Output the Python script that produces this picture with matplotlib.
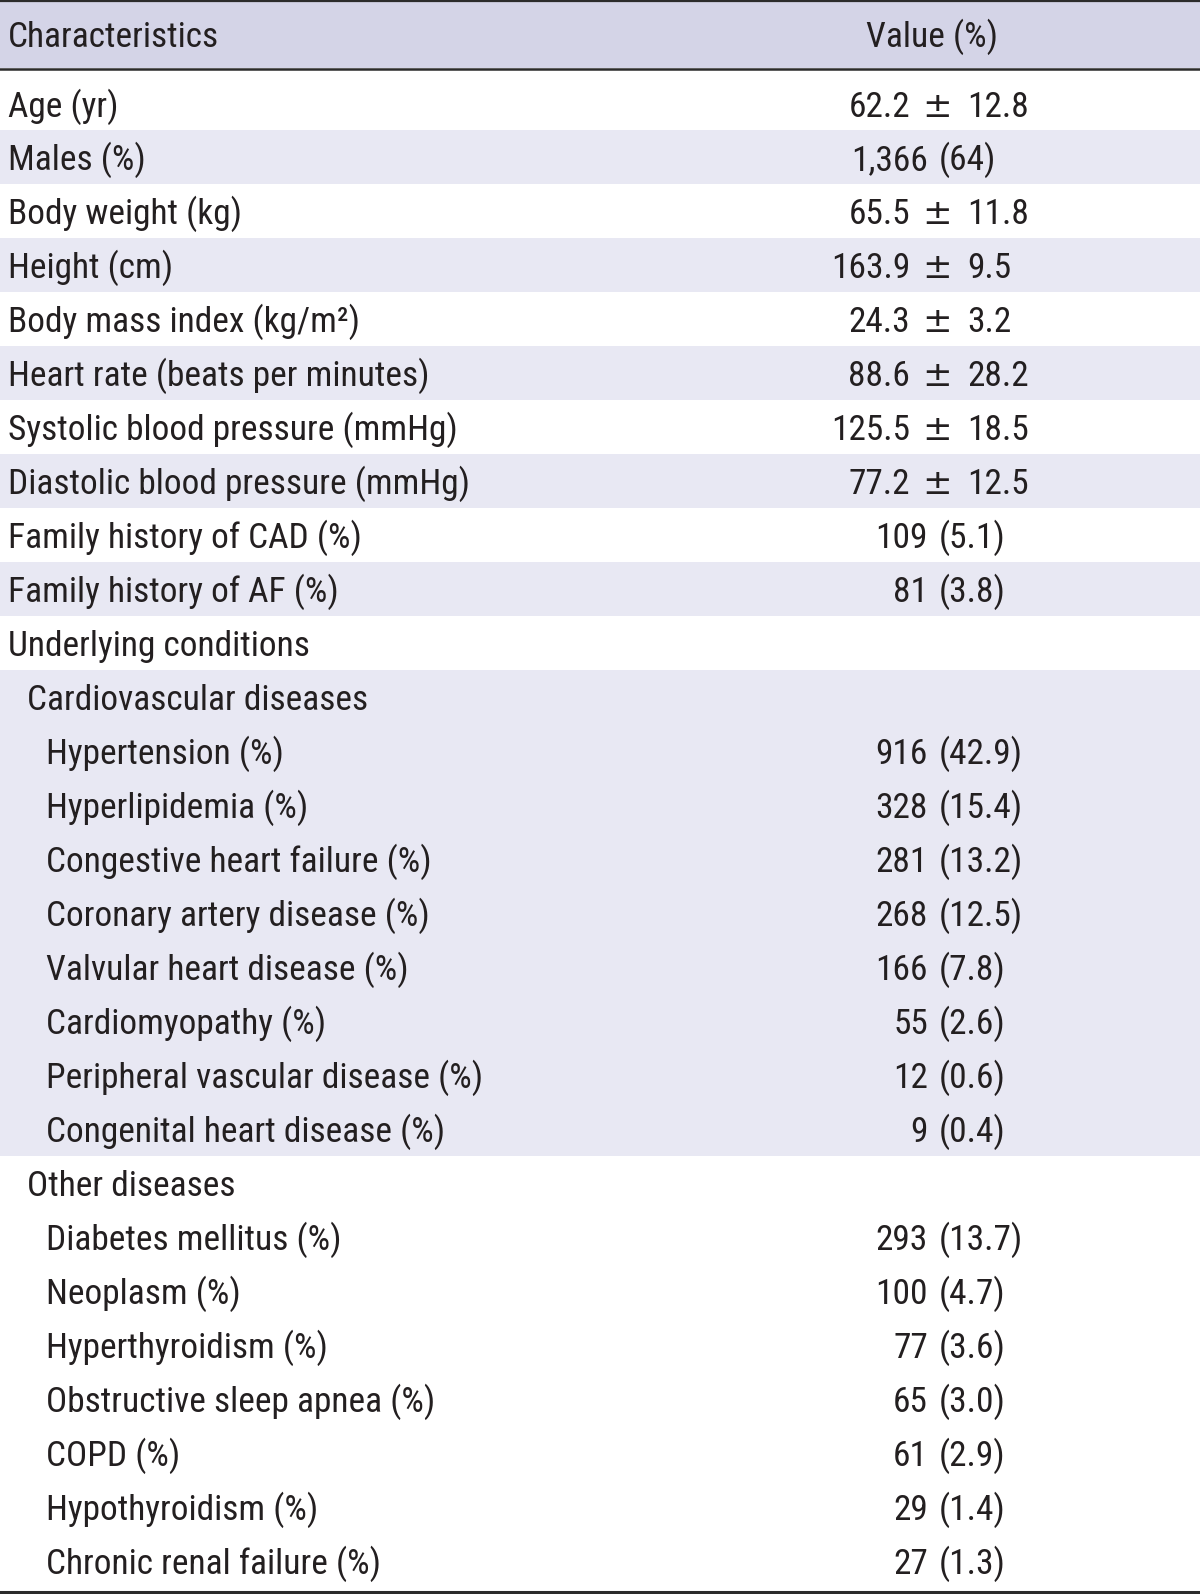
import matplotlib
matplotlib.use("Agg")
import matplotlib.pyplot as plt
from matplotlib import font_manager

names = {f.name for f in font_manager.fontManager.ttflist}
CANDIDATES = ["Roboto Condensed", "Archivo Narrow", "PT Sans Narrow",
              "Liberation Sans Narrow", "Liberation Sans"]
FONT = next((c for c in CANDIDATES if c in names), "DejaVu Sans")
plt.rcParams["font.family"] = [FONT, "DejaVu Sans"]

# ---------------- data ----------------
header = ["Characteristics", "Value (%)"]
labels = [
    "Age (yr)", "Males (%)", "Body weight (kg)", "Height (cm)",
    "Body mass index (kg/m²)", "Heart rate (beats per minutes)",
    "Systolic blood pressure (mmHg)", "Diastolic blood pressure (mmHg)",
    "Family history of CAD (%)", "Family history of AF (%)",
    "Underlying conditions", "Cardiovascular diseases",
    "Hypertension (%)", "Hyperlipidemia (%)", "Congestive heart failure (%)",
    "Coronary artery disease (%)", "Valvular heart disease (%)",
    "Cardiomyopathy (%)", "Peripheral vascular disease (%)",
    "Congenital heart disease (%)", "Other diseases",
    "Diabetes mellitus (%)", "Neoplasm (%)", "Hyperthyroidism (%)",
    "Obstructive sleep apnea (%)", "COPD (%)", "Hypothyroidism (%)",
    "Chronic renal failure (%)",
]
values = [
    "62.2 ± 12.8", "1,366 (64)", "65.5 ± 11.8", "163.9 ± 9.5",
    "24.3 ± 3.2", "88.6 ± 28.2", "125.5 ± 18.5", "77.2 ± 12.5",
    "109 (5.1)", "81 (3.8)",
    "", "",
    "916 (42.9)", "328 (15.4)", "281 (13.2)", "268 (12.5)", "166 (7.8)",
    "55 (2.6)", "12 (0.6)", "9 (0.4)",
    "",
    "293 (13.7)", "100 (4.7)", "77 (3.6)", "65 (3.0)", "61 (2.9)",
    "29 (1.4)", "27 (1.3)",
]
indent = [0] * 11 + [1] + [2] * 8 + [1] + [2] * 7
shaded = [False, True, False, True, False, True, False, True, False, True,
          False] + [True] * 9 + [False] * 8

# ---------------- style ----------------
W, H = 1200, 1594
HEAD_BG = "#D4D4E7"
ROW_BG = "#E8E8F3"
TXT = "#231F20"
LINE = "#2B2B2B"
if FONT in ("Liberation Sans", "DejaVu Sans"):
    FS, FS_HEAD = 22.0, 22.5
else:
    FS, FS_HEAD = 25.5, 25.5
indent_x = [8, 27, 46]

fig = plt.figure(figsize=(W / 100, H / 100), dpi=100)
ax = fig.add_axes([0, 0, 1, 1])
ax.set_xlim(0, W)
ax.set_ylim(H, 0)
ax.axis("off")

# header
ax.axhspan(2, 68, color=HEAD_BG, lw=0)
ax.text(indent_x[0], 47, header[0], fontsize=FS_HEAD, color=TXT, va="baseline", ha="left")
ax.text(932, 47, header[1], fontsize=FS_HEAD, color=TXT, va="baseline", ha="center")

# row geometry
tops = [70] + [130 + 54 * i for i in range(len(labels) - 1)]
bots = [130] + [184 + 54 * i for i in range(len(labels) - 1)]
mids = [104] + [157 + 54 * i for i in range(len(labels) - 1)]

for i, (lab, val) in enumerate(zip(labels, values)):
    if shaded[i]:
        ax.axhspan(tops[i], bots[i], color=ROW_BG, lw=0)
    base = mids[i] + 13
    ax.text(indent_x[indent[i]], base, lab, fontsize=FS, color=TXT,
            va="baseline", ha="left")
    if not val:
        continue
    if "±" in val:
        left, right = val.split(" ± ")
        ax.text(910, base, left, fontsize=FS, color=TXT, va="baseline", ha="right")
        ax.text(937.5, base, "±", fontsize=FS, color=TXT, va="baseline",
                ha="center", family="DejaVu Sans")
        ax.text(967, base, right, fontsize=FS, color=TXT, va="baseline", ha="left")
    else:
        left, right = val.split(" (")
        ax.text(928, base, left, fontsize=FS, color=TXT, va="baseline", ha="right")
        ax.text(939, base, "(" + right, fontsize=FS, color=TXT, va="baseline", ha="left")

# rules
ax.axhline(1, color=LINE, lw=1.6)
ax.axhline(69, color=LINE, lw=1.8)
ax.axhline(1591.5, color=LINE, lw=2.2)

fig.savefig("out.png", dpi=100)
